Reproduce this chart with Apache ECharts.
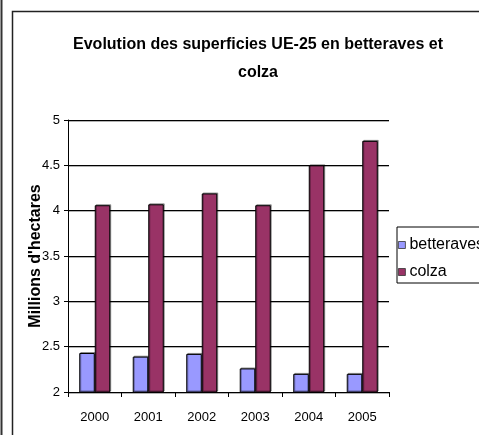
<!DOCTYPE html>
<html>
<head>
<meta charset="utf-8">
<script src="https://cdn.jsdelivr.net/npm/echarts@6/dist/echarts.min.js"></script>
<style>
  html, body { margin: 0; padding: 0; background: #fff; }
  #chart { width: 479px; height: 435px; }
</style>
</head>
<body>
<div id="chart"></div>
<script>
const years = ['2000', '2001', '2002', '2003', '2004', '2005']
const betteraves = [2.43, 2.39, 2.42, 2.26, 2.20, 2.20]
const colza = [4.06, 4.07, 4.19, 4.06, 4.50, 4.77]
const yMin = 2
const yMax = 5
const yStep = 0.5

const font = '"Liberation Sans", Arial, sans-serif'

const chart = echarts.init(document.getElementById('chart'), null, { renderer: 'canvas' })

const barStyle = (color) => ({
  color,
  borderColor: '#000',
  borderWidth: 1,
  shadowColor: 'rgba(0,0,0,0.35)',
  shadowOffsetX: 1,
  shadowOffsetY: -1
})

chart.setOption({
  animation: false,
  textStyle: { fontFamily: font, color: '#000' },
  title: {
    text: 'Evolution des superficies UE-25 en betteraves et\ncolza',
    left: 253,
    top: 26,
    textAlign: 'center',
    textStyle: { fontSize: 16, fontWeight: 'bold', color: '#000', lineHeight: 28 }
  },
  graphic: [
    { type: 'line', shape: { x1: 1.5, y1: 0, x2: 1.5, y2: 435 }, style: { stroke: '#333', lineWidth: 2 } },
    { type: 'polyline', shape: { points: [[12.5, 435], [12.5, 11.5], [479, 11.5]] }, style: { stroke: '#222', fill: null, lineWidth: 1.5 } }
  ],
  legend: {
    orient: 'vertical',
    left: 397,
    top: 227,
    padding: [10, 20, 3, 1],
    itemWidth: 7,
    itemHeight: 7,
    itemGap: 11,
    icon: 'rect',
    borderColor: '#000',
    borderWidth: 1,
    itemStyle: { borderColor: '#333', borderWidth: 0.8, shadowColor: 'transparent' },
    textStyle: { fontSize: 16, lineHeight: 16, color: '#000', padding: [0, 0, 0, -1] },
    data: ['betteraves', 'colza']
  },
  grid: { left: 68, right: 90, top: 120, bottom: 43 },
  xAxis: {
    type: 'category',
    data: years,
    axisLine: { lineStyle: { color: '#000', width: 1 } },
    axisTick: { show: true, length: 5, alignWithLabel: false, lineStyle: { color: '#000' } },
    axisLabel: { fontSize: 13, color: '#000', margin: 19 }
  },
  yAxis: {
    type: 'value',
    min: yMin,
    max: yMax,
    interval: yStep,
    name: "Millions d'hectares",
    nameLocation: 'middle',
    nameGap: 24,
    nameMoveOverlap: false,
    nameTextStyle: { fontSize: 16, fontWeight: 'bold', color: '#000' },
    axisLine: { show: true, lineStyle: { color: '#000', width: 1 } },
    axisTick: { show: true, length: 4, lineStyle: { color: '#000' } },
    axisLabel: { fontSize: 13, color: '#000', margin: 8 },
    splitLine: { lineStyle: { color: '#000', width: 1, shadowColor: 'rgba(0,0,0,0.3)', shadowOffsetY: 1 } }
  },
  series: [
    {
      name: 'betteraves',
      type: 'bar',
      data: betteraves,
      barGap: '0%',
      barCategoryGap: '42%',
      itemStyle: barStyle('#9999ff')
    },
    {
      name: 'colza',
      type: 'bar',
      data: colza,
      barGap: '0%',
      barCategoryGap: '42%',
      itemStyle: barStyle('#993366')
    }
  ]
})
</script>
</body>
</html>
